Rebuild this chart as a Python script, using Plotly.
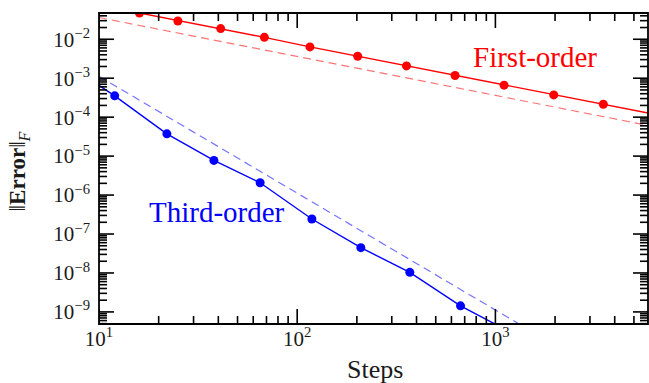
import math
import plotly.graph_objects as go

# First-order method (red)
first_steps = [9.1, 16.0, 25.0, 41.1, 68.3, 116, 202, 356, 626, 1106, 1970, 3505, 6200]
first_err = [0.0826, 0.0472, 0.0294, 0.0188, 0.0112, 0.00635, 0.00366, 0.00207,
             0.00117, 6.62e-4, 3.73e-4, 2.15e-4, 1.22e-4]
first_ref_steps = [10, 10000]
first_ref_err = [0.0362, 3.62e-5]

# Third-order method (blue)
third_steps = [7.0, 12.0, 22.0, 38.0, 65.0, 118.6, 209.5, 370, 667, 1180]
third_err = [2.18e-3, 3.52e-4, 3.73e-5, 7.76e-6, 2.07e-6, 2.43e-7, 4.46e-8,
             1.04e-8, 1.43e-9, 3.1e-10]
third_ref_steps = [10, 2000]
third_ref_err = [1.12e-3, 1.4e-10]

# Tick labels
x_exps = [1, 2, 3]
y_exps = [-2, -3, -4, -5, -6, -7, -8, -9]
x_tickvals = [10.0 ** e for e in x_exps]
x_ticktext = ["10<sup>%d</sup>" % e for e in x_exps]
y_tickvals = [10.0 ** e for e in y_exps]
y_ticktext = ["10<sup>\u2212%d</sup>" % (-e) for e in y_exps]
x_minor = [m * 10.0 ** k for k in range(1, 4) for m in range(2, 10)]
y_minor = [m * 10.0 ** k for k in range(-10, -1) for m in range(2, 10)]

X_RANGE = [1, 3.77]
Y_RANGE = [-9.31, -1.326]

W, H = 649, 383
M = dict(l=99, r=1, t=13, b=59)
PW = W - M["l"] - M["r"]
PH = H - M["t"] - M["b"]

RED = "#ff0000"
BLUE = "#0000ff"
FONT = "Liberation Serif"
TXT = "#1a1a1a"

fig = go.Figure()
fig.add_trace(go.Scatter(x=first_ref_steps, y=first_ref_err, mode="lines",
                         line=dict(color="rgba(255,0,0,0.55)", width=1.2, dash="8px,5px"),
                         showlegend=False, hoverinfo="skip"))
fig.add_trace(go.Scatter(x=third_ref_steps, y=third_ref_err, mode="lines",
                         line=dict(color="rgba(0,0,255,0.55)", width=1.2, dash="8px,5px"),
                         showlegend=False, hoverinfo="skip"))
fig.add_trace(go.Scatter(x=first_steps, y=first_err, mode="lines+markers",
                         line=dict(color=RED, width=1.4),
                         marker=dict(color=RED, size=9),
                         showlegend=False))
fig.add_trace(go.Scatter(x=third_steps, y=third_err, mode="lines+markers",
                         line=dict(color=BLUE, width=1.4),
                         marker=dict(color=BLUE, size=9),
                         showlegend=False))

# inward tick marks on all four sides, built from the axis scale
xspan = X_RANGE[1] - X_RANGE[0]
yspan = Y_RANGE[1] - Y_RANGE[0]


def x_ticks(values, length):
    xs, ys = [], []
    d = length / PH * yspan
    for v in values:
        lv = math.log10(v)
        if not (X_RANGE[0] <= lv <= X_RANGE[1]):
            continue
        xs.extend([v, v, None, v, v, None])
        ys.extend([10 ** Y_RANGE[0], 10 ** (Y_RANGE[0] + d), None,
                   10 ** Y_RANGE[1], 10 ** (Y_RANGE[1] - d), None])
    return xs, ys


def y_ticks(values, length):
    xs, ys = [], []
    d = length / PW * xspan
    for v in values:
        lv = math.log10(v)
        if not (Y_RANGE[0] <= lv <= Y_RANGE[1]):
            continue
        ys.extend([v, v, None, v, v, None])
        xs.extend([10 ** X_RANGE[0], 10 ** (X_RANGE[0] + d), None,
                   10 ** X_RANGE[1], 10 ** (X_RANGE[1] - d), None])
    return xs, ys


for fn, vals, ln in ((x_ticks, x_tickvals, 15), (x_ticks, x_minor, 8),
                     (y_ticks, y_tickvals, 15), (y_ticks, y_minor, 8)):
    xs, ys = fn(vals, ln)
    fig.add_trace(go.Scatter(x=xs, y=ys, mode="lines", connectgaps=False,
                             line=dict(color="black", width=1.6),
                             showlegend=False, hoverinfo="skip", cliponaxis=False))

base = dict(
    type="log",
    showgrid=False,
    zeroline=False,
    showline=False,
    ticks="inside",
    ticklen=15,
    tickcolor="rgba(0,0,0,0)",
    tickmode="array",
)

fig.update_layout(
    xaxis=dict(**base, range=X_RANGE, tickvals=x_tickvals, ticktext=x_ticktext,
               tickfont=dict(family=FONT, size=21, color=TXT)),
    yaxis=dict(**base, range=Y_RANGE, tickvals=y_tickvals, ticktext=y_ticktext,
               ticklabelstandoff=8,
               tickfont=dict(family=FONT, size=21, color=TXT)),
)

# plot frame
fig.add_shape(type="rect", xref="paper", yref="paper", x0=0, x1=1, y0=0, y1=1,
              line=dict(color="black", width=1.8), layer="above")

fig.add_annotation(x=3.200, y=-2.454, xref="x", yref="y", text="First-order",
                   showarrow=False, font=dict(family=FONT, size=29, color=RED))
fig.add_annotation(x=1.594, y=-6.436, xref="x", yref="y", text="Third-order",
                   showarrow=False, font=dict(family=FONT, size=29, color=BLUE))
# axis titles
fig.add_annotation(x=0.502, y=-0.145, xref="paper", yref="paper", text="Steps",
                   showarrow=False, xanchor="center", yanchor="middle",
                   font=dict(family=FONT, size=26, color=TXT))
fig.add_annotation(x=-0.145, y=0.492, xref="paper", yref="paper",
                   text="\u2016<b>Error</b>\u2016<sub><i>F</i></sub>",
                   textangle=-90, showarrow=False, xanchor="center", yanchor="middle",
                   font=dict(family=FONT, size=23, color=TXT))

fig.update_layout(
    width=W, height=H,
    margin=dict(**M, autoexpand=False),
    plot_bgcolor="white",
    paper_bgcolor="white",
    hovermode=False,
)

fig.write_html("out.html", config={"displayModeBar": False},
               post_script="document.body.style.margin='0';document.body.style.overflow='hidden';")
